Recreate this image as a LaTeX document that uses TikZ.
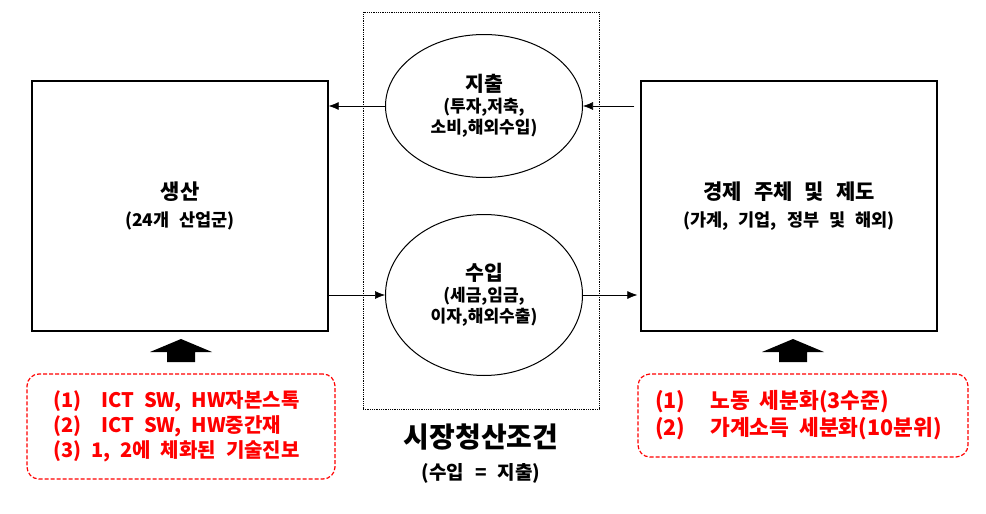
\documentclass[tikz,border=0pt]{standalone}
\usepackage{fontspec}
\setmainfont{Noto Sans CJK KR}[WordSpace=2.5]
\usetikzlibrary{arrows.meta, shapes.geometric}

\begin{document}
\begin{tikzpicture}[x=1pt, y=-1pt,
  every node/.style={align=center},
  box/.style={draw, line width=1.3pt, minimum width=296pt, minimum height=250pt,
    font=\fontsize{17.5}{27}\selectfont\bfseries},
  flow/.style={draw, ellipse, line width=1pt, minimum width=197pt,
    font=\fontsize{17}{21}\selectfont\bfseries},
  link/.style={-{Latex[length=10pt, width=8pt]}, line width=0.6pt},
  note/.style={draw=red, dash pattern=on 4pt off 2pt, line width=1.2pt, rounded corners=12pt, text=red,
    align=left, inner ysep=0pt, font=\fontsize{20}{25}\selectfont\bfseries}]
  \useasboundingbox (0,0) rectangle (986,514);

  \node[box] (prod) at (180,206) {{\fontsize{21}{27}\selectfont 생산}\\(24개 산업군)};
  \node[box] (agent) at (789,206) {{\fontsize{21}{27}\selectfont 경제 주체 및 제도}\\(가계, 기업, 정부 및 해외)};

  % market clearing
  \node[draw, densely dotted, line width=0.8pt, minimum width=236pt, minimum height=397pt] (market) at (481,210.5) {};
  \node[flow, minimum height=143pt] (spend) at (484,106) {{\fontsize{20.5}{21}\selectfont 지출}\\(투자,저축,\\소비,해외수입)};
  \node[flow, minimum height=161pt] (income) at (484,295) {{\fontsize{20.5}{21}\selectfont 수입}\\(세금,임금,\\이자,해외수출)};
  \node[font=\fontsize{19}{32}\selectfont\bfseries] (cond) at (481,454) {{\fontsize{28}{32}\selectfont 시장청산조건}\\(수입 = 지출)};

  \draw[link, shorten <=6pt] (agent.west |- spend.east) -- (spend.east);
  \draw[link] (spend.west) -- (spend.west -| prod.east);
  \draw[link] (prod.east |- income.west) -- (income.west);
  \draw[link, shorten >=3pt] (income.east) -- (income.east -| agent.west);

  % inputs
  \node[note, text width=256pt, inner xsep=26pt, minimum height=105pt] (lnote) at (181,426.5)
    {\spaceskip=10pt\relax (1)\hspace{20pt}ICT SW, HW자본스톡\\(2)\hspace{20pt}ICT SW, HW중간재\\(3) 1, 2에 체화된 기술진보};
  \node[note, text width=296pt, inner xsep=17pt, minimum height=83pt,
    font=\fontsize{21.5}{27}\selectfont\bfseries] (rnote) at (803,415.5)
    {\spaceskip=10pt\relax (1)\hspace{25pt}노동 세분화(3수준)\\(2)\hspace{25pt}가계소득 세분화(10분위)};

  \coordinate (ltip) at (181,339);
  \coordinate (rtip) at (793,339);
  \foreach \t in {ltip, rtip}
    \fill (\t) -- ++(31,13) -- ++(-17,0) -- ++(0,10) -- ++(-28,0) -- ++(0,-10) -- ++(-17,0) -- cycle;
\end{tikzpicture}
\end{document}
